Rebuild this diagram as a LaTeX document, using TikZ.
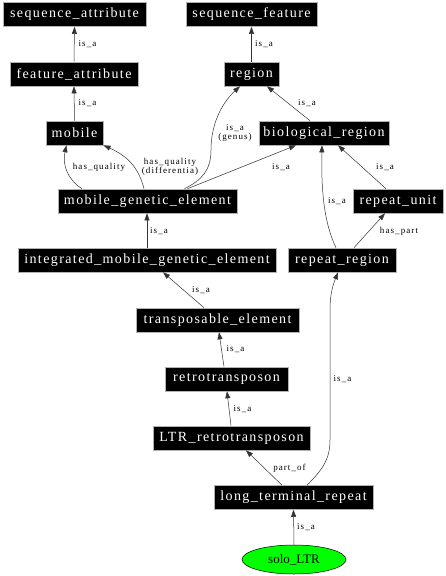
\documentclass[tikz,border=0pt]{standalone}
\usepackage{fontspec}
\setmainfont{Liberation Serif}
\newfontfamily\boxfont[LetterSpace=10]{Liberation Serif}
\newfontfamily\labfont[LetterSpace=12]{Liberation Serif}
\usetikzlibrary{arrows.meta,shapes.geometric}
\begin{document}
\begin{tikzpicture}[x=1pt,y=-1pt,
  term/.style={rectangle,fill=black,draw=gray!60,line width=0.6pt,text=white,
    font=\boxfont\fontsize{14}{15}\selectfont,minimum height=24pt,inner xsep=1pt,inner ysep=0pt,
    minimum width=#1},
  leaf/.style={ellipse,fill=green,draw=black,line width=0.5pt,text=black,
    font=\fontsize{13}{14}\selectfont,minimum width=104pt,minimum height=29pt,inner sep=0pt},
  rel/.style={draw=black!80,line width=0.5pt,-{Triangle[length=7pt,width=5pt]}},
  lab/.style={font=\labfont\fontsize{9}{9.5}\selectfont,inner sep=0pt,align=center}]
\useasboundingbox (0,0) rectangle (446,576);
\fill[white] (0,0) rectangle (446,576);

\node[term=143pt] (sa) at (74.5,14.5) {sequence\_attribute};
\node[term=131pt] (sf) at (251.5,14.5) {sequence\_feature};
\node[term=128pt] (fa) at (74,74) {feature\_attribute};
\node[term=55pt] (rg) at (251.5,74) {region};
\node[term=57pt] (mob) at (74.5,133) {mobile};
\node[term=130pt] (br) at (324,133) {biological\_region};
\node[term=179pt] (mge) at (147.5,201) {mobile\_genetic\_element};
\node[term=90pt] (ru) at (398,201) {repeat\_unit};
\node[term=258pt] (imge) at (147,260) {integrated\_mobile\_genetic\_element};
\node[term=108pt] (rr) at (342,260) {repeat\_region};
\node[term=163pt] (te) at (217.5,320) {transposable\_element};
\node[term=123pt] (rt) at (226.5,379) {retrotransposon};
\node[term=157pt] (ltrr) at (231.5,438) {LTR\_retrotransposon};
\node[term=159pt] (ltr) at (293.5,497.5) {long\_terminal\_repeat};
\node[leaf] (solo) at (294,559.5) {solo\_LTR};

\draw[rel] (fa.north) -- (sa.south);
\node[lab] (l1) at (87.5,44) {is\_a};
\draw[rel] (rg.north) -- (sf.south);
\node[lab] (l2) at (264,44) {is\_a};
\draw[rel] (mob.north) -- (fa.south);
\node[lab] (l3) at (87.5,103) {is\_a};
\draw[rel] ([xshift=-14pt]br.north) -- ([xshift=15.5pt]rg.south);
\node[lab] (l4) at (307,103) {is\_a};
\draw[rel] ([xshift=37pt]mge.north) .. controls (202,180) and (211,170) .. (211,150)
  .. controls (211,120) and (225,100) .. ([xshift=-11.5pt]rg.south);
\node[lab] (l5) at (235,133) {is\_a\\(genus)};
\draw[rel] ([xshift=-65.5pt]mge.north) .. controls (68,180) and (62,165) .. ([xshift=-8pt]mob.south);
\node[lab] (l6) at (99,167) {has\_quality};
\draw[rel] ([xshift=-3.5pt]mge.north) .. controls (138,165) and (125,155) .. ([xshift=29pt]mob.south);
\node[lab] (l7) at (170,167) {has\_quality\\(differentia)};
\draw[rel] ([xshift=40pt]mge.north) -- ([xshift=-28pt]br.south);
\node[lab] (l8) at (281,167) {is\_a};
\draw[rel] ([xshift=-6pt]rr.north) .. controls (325,225) and (321,195) .. ([xshift=-2pt]br.south);
\node[lab] (l9) at (337,201) {is\_a};
\draw[rel] ([xshift=-12pt]ru.north) -- ([xshift=14pt]br.south);
\node[lab] (l10) at (385,167) {is\_a};
\draw[rel] ([xshift=12pt]rr.north) -- ([xshift=-13pt]ru.south);
\node[lab] (l11) at (399,231) {has\_part};
\draw[rel] (imge.north) -- (imge.north |- mge.south);
\node[lab] (l12) at (159,231) {is\_a};
\draw[rel] ([xshift=-13.5pt]te.north) -- ([xshift=16pt]imge.south);
\node[lab] (l13) at (201,290) {is\_a};
\draw[rel] ([xshift=-2.5pt]rt.north) -- ([xshift=1.5pt]te.south);
\node[lab] (l14) at (235.5,349) {is\_a};
\draw[rel] ([xshift=-0.5pt]ltrr.north) -- ([xshift=0.5pt]rt.south);
\node[lab] (l15) at (242.5,409) {is\_a};
\draw[rel] ([xshift=-11.5pt]ltr.north) -- ([xshift=14.5pt]ltrr.south);
\node[lab] (l16) at (289.5,468) {part\_of};
\draw[rel] ([xshift=13.5pt]ltr.north) .. controls (322,470) and (330,460) .. (330,440)
  -- (330,310) .. controls (330,290) and (335,280) .. ([xshift=-4pt]rr.south);
\node[lab] (l17) at (342.5,379) {is\_a};
\draw[rel] (solo.north) -- (ltr.south);
\node[lab] (l18) at (306,527) {is\_a};
\end{tikzpicture}
\end{document}
